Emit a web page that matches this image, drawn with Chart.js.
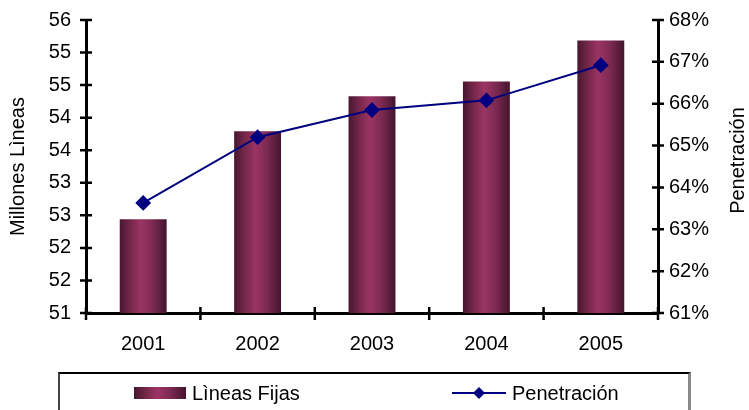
<!DOCTYPE html>
<html>
<head>
<meta charset="utf-8">
<script src="https://cdn.jsdelivr.net/npm/chart.js@4/dist/chart.umd.min.js"></script>
<style>
  html, body { margin: 0; padding: 0; background: #fff; }
  #wrap { position: relative; width: 749px; height: 410px; overflow: hidden; }
  #lineasChart { position: absolute; left: 0; top: 0; }
  #legend {
    position: absolute; left: 58px; top: 372px; width: 628px; height: 60px;
    border-top: 2px solid #000; border-left: 2px solid #444; border-right: 3px solid #8a8a8a;
    font: 20px "Liberation Sans", Arial, sans-serif; color: #000;
  }
  .item { position: absolute; top: 7px; display: flex; align-items: center; height: 24px; }
  .item span { margin-left: 6px; }
</style>
</head>
<body>
<div id="wrap">
  <canvas id="lineasChart" width="749" height="410"></canvas>
  <div id="legend"></div>
</div>
<script>
// Lineas fijas (millones) y penetracion (%) por año
const years = ['2001', '2002', '2003', '2004', '2005'];
const lineasFijas = [52.6, 54.1, 54.7, 54.95, 55.65];
const penetracion = [63.63, 65.2, 65.85, 66.08, 66.92];

const barLabel = 'Lìneas Fijas';
const lineLabel = 'Penetración';
const lineColor = '#000080';
const barPct = 0.41;

// horizontal shading used for the bars and the legend swatch
function barGradient(ctx, x0, x1) {
  const g = ctx.createLinearGradient(x0, 0, x1, 0);
  g.addColorStop(0, '#471630');
  g.addColorStop(0.22, '#742748');
  g.addColorStop(0.45, '#9b3464');
  g.addColorStop(0.7, '#7c2a52');
  g.addColorStop(1, '#43142d');
  return g;
}

// one gradient per bar, placed from the category scale
function barFill(context) {
  const chart = context.chart;
  const x = chart.scales.x;
  if (!chart.chartArea || !x || context.type !== 'data') return '#8a2e5a';
  const cx = x.getPixelForValue(context.dataIndex);
  const w = (x.getPixelForTick(1) - x.getPixelForTick(0)) * barPct;
  return barGradient(chart.ctx, cx - w / 2, cx + w / 2);
}

// tick marks that cross the axis lines
const crossTicks = {
  id: 'crossTicks',
  afterDraw(chart) {
    const ctx = chart.ctx;
    const { x, y, y1 } = chart.scales;
    ctx.save();
    ctx.strokeStyle = '#000';
    ctx.lineWidth = 2.5;
    ctx.beginPath();
    y.ticks.forEach((t) => {
      const py = y.getPixelForValue(t.value);
      ctx.moveTo(x.left - 6, py); ctx.lineTo(x.left + 6, py);
    });
    y1.ticks.forEach((t) => {
      const py = y1.getPixelForValue(t.value);
      ctx.moveTo(x.right - 6, py); ctx.lineTo(x.right + 6, py);
    });
    const step = x.getPixelForTick(1) - x.getPixelForTick(0);
    for (let i = 0; i <= years.length; i++) {
      const px = x.getPixelForTick(0) + (i - 0.5) * step;
      ctx.moveTo(px, x.top - 6); ctx.lineTo(px, x.top + 7);
    }
    ctx.stroke();

    // right axis title, read bottom to top
    ctx.font = '20px "Liberation Sans", Arial, sans-serif';
    ctx.fillStyle = '#000';
    ctx.textAlign = 'center';
    ctx.textBaseline = 'middle';
    ctx.translate(738, (y1.top + y1.bottom) / 2 - 6);
    ctx.rotate(-Math.PI / 2);
    ctx.fillText(lineLabel, 0, 0);
    ctx.restore();
  }
};

const font = { family: '"Liberation Sans", Arial, sans-serif', size: 20 };
Chart.defaults.color = '#000';

// fixed axis widths, no extra room for half labels at the ends
function fitY(width) {
  return (s) => { s.width = width; s.paddingTop = 0; s.paddingBottom = 0; };
}

new Chart(document.getElementById('lineasChart'), {
  data: {
    labels: years,
    datasets: [
      {
        type: 'line',
        label: lineLabel,
        data: penetracion,
        yAxisID: 'y1',
        borderColor: lineColor,
        backgroundColor: lineColor,
        borderWidth: 2,
        pointStyle: 'rectRot',
        pointRadius: 6.5,
        pointHoverRadius: 6.5,
        order: 0
      },
      {
        type: 'bar',
        label: barLabel,
        data: lineasFijas,
        yAxisID: 'y',
        backgroundColor: barFill,
        barPercentage: barPct,
        categoryPercentage: 1,
        order: 1
      }
    ]
  },
  options: {
    responsive: false,
    animation: false,
    layout: { padding: { top: 20, bottom: 52, left: 0, right: 0 } },
    plugins: { legend: { display: false }, tooltip: { enabled: false } },
    scales: {
      x: {
        offset: true,
        grid: { display: false, drawTicks: false },
        border: { display: true, color: '#000', width: 3 },
        ticks: { font, padding: 19 },
        afterFit(s) { s.height = 45; s.paddingLeft = 0; s.paddingRight = 0; }
      },
      y: {
        position: 'left',
        min: 51, max: 56,
        grid: { display: false, drawTicks: false },
        border: { display: true, color: '#000', width: 3 },
        ticks: { font, padding: 15, count: 10, callback: (v) => Math.round(v) },
        title: { display: true, text: 'Millones Lìneas', font, padding: { top: 6, bottom: 0 } },
        afterFit: fitY(86)
      },
      y1: {
        position: 'right',
        min: 61, max: 68,
        grid: { display: false, drawTicks: false },
        border: { display: true, color: '#000', width: 3 },
        ticks: { font, padding: 11, stepSize: 1, callback: (v) => v + '%' },
        afterFit: fitY(91)
      }
    }
  },
  plugins: [crossTicks]
});

// legend row built from the chart's own series
const legend = document.getElementById('legend');
const barItem = document.createElement('div');
barItem.className = 'item';
barItem.style.left = '74px';
const sw = document.createElement('canvas');
sw.width = 52; sw.height = 12;
const sctx = sw.getContext('2d');
sctx.fillStyle = barGradient(sctx, 0, 52);
sctx.fillRect(0, 0, 52, 12);
barItem.appendChild(sw);
barItem.insertAdjacentHTML('beforeend', '<span>' + barLabel + '</span>');
legend.appendChild(barItem);

const lineItem = document.createElement('div');
lineItem.className = 'item';
lineItem.style.left = '392px';
const lw = document.createElement('canvas');
lw.width = 54; lw.height = 16;
const lctx = lw.getContext('2d');
lctx.strokeStyle = lineColor; lctx.lineWidth = 2;
lctx.beginPath(); lctx.moveTo(0, 8); lctx.lineTo(54, 8); lctx.stroke();
lctx.fillStyle = lineColor;
lctx.beginPath(); lctx.moveTo(27, 2); lctx.lineTo(33, 8); lctx.lineTo(27, 14); lctx.lineTo(21, 8); lctx.closePath(); lctx.fill();
lineItem.appendChild(lw);
lineItem.insertAdjacentHTML('beforeend', '<span>' + lineLabel + '</span>');
legend.appendChild(lineItem);
</script>
</body>
</html>
